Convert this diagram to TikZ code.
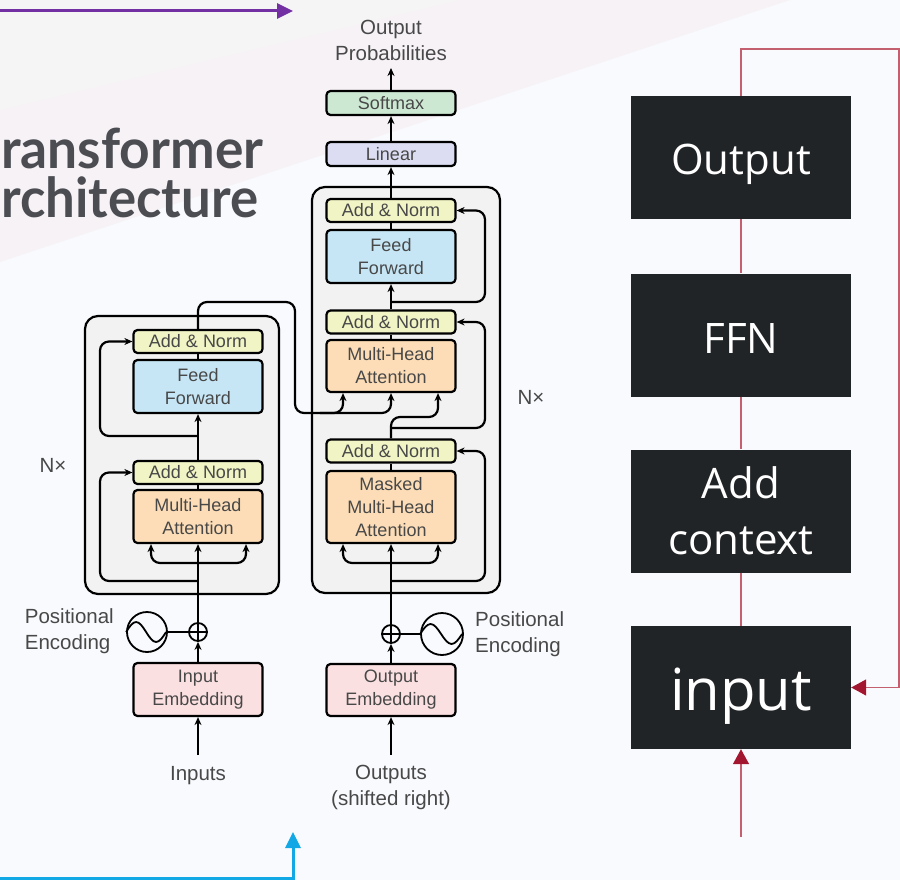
\documentclass[tikz,border=0pt]{standalone}
\usepackage{fontspec}
\setmainfont{Liberation Sans}
\newfontfamily\titlefont{Lato}
\newfontfamily\boxfont{Open Sans}
\usetikzlibrary{arrows.meta}

\definecolor{bgbase}{HTML}{F9FAFD}
\definecolor{bgpink}{HTML}{F6F2F6}
\definecolor{bggray}{HTML}{F6F5F5}
\definecolor{titlegray}{HTML}{4B4D52}
\definecolor{tgray}{HTML}{484848}
\definecolor{blkfill}{HTML}{F2F2F2}
\definecolor{anfill}{HTML}{F1F4C4}
\definecolor{fffill}{HTML}{C6E6F5}
\definecolor{mhafill}{HTML}{FCDDB7}
\definecolor{embfill}{HTML}{FBE0E1}
\definecolor{linfill}{HTML}{DCDDF2}
\definecolor{smfill}{HTML}{CCE8D3}
\definecolor{darkbox}{HTML}{212426}
\definecolor{redline}{HTML}{C45F6F}
\definecolor{arrowred}{HTML}{A3162F}
\definecolor{purplearrow}{HTML}{7330A3}
\definecolor{cyanarrow}{HTML}{12A8E6}

\tikzset{
  tbox/.style={draw=black, line width=2.2pt, rounded corners=4pt,
    minimum width=129pt, inner sep=0pt, align=center, text=tgray,
    font=\fontsize{18}{23}\selectfont},
  anbox/.style={tbox, fill=anfill, minimum height=23pt},
  ffbox/.style={tbox, fill=fffill, minimum height=53pt},
  mhabox/.style={tbox, fill=mhafill},
  embbox/.style={tbox, fill=embfill, minimum height=53pt},
  blkbox/.style={draw=black, line width=2.2pt, fill=blkfill, rounded corners=13pt, inner sep=0pt},
  lbl/.style={text=tgray, inner sep=0pt, align=center, font=\fontsize{20.5}{26}\selectfont},
  tline/.style={line width=2.2pt},
  arr/.style={line width=2.2pt, -{Stealth[length=8pt,width=7pt]}},
  loop/.style={arr, rounded corners=9pt},
  ring/.style={circle, draw=black, line width=1.8pt, inner sep=0pt},
  dbox/.style={fill=darkbox, minimum width=220pt, minimum height=123pt, inner sep=0pt,
    text=white, align=center, font=\boxfont\fontsize{42}{56}\selectfont},
  rline/.style={draw=redline, line width=1.4pt},
  rarr/.style={rline, -{Triangle[length=15pt,width=16pt,color=arrowred,fill=arrowred]}},
  titletext/.style={anchor=base west, inner sep=0pt, text=titlegray,
    font=\titlefont\bfseries\fontsize{55}{60}\selectfont}
}

\begin{document}
\begin{tikzpicture}[x=1pt,y=-1pt]
\useasboundingbox (0,0) rectangle (900,880);

% backdrop with faint diagonal bands
\fill[bgbase] (0,0) rectangle (900,880);
\fill[bgpink] (0,0) -- (790,0) -- (0,262) -- cycle;
\fill[bggray] (0,0) -- (460,0) -- (0,110) -- cycle;

% title, as far as it shows at the left edge
\node[titletext] (title1) at (1,168) {\resizebox{262pt}{\height}{ransformer}};
\node[titletext] (title2) at (1,218) {\resizebox{257pt}{\height}{rchitecture}};

% decorative arrows
\coordinate (purpleStart) at (0,11);
\coordinate (purpleEnd) at (293,11);
\draw[purplearrow, line width=3pt, -{Triangle[length=16pt,width=15pt]}] (purpleStart) -- (purpleEnd);
\coordinate (cyanStart) at (0,878);
\coordinate (cyanEnd) at (293,832);
\draw[cyanarrow, line width=3pt, -{Triangle[length=16pt,width=15pt]}] (cyanStart) -| (cyanEnd);

% ---------------- encoder ----------------
\node[blkbox, minimum width=194pt, minimum height=278pt] (encBlk) at (182,455) {};
\node[anbox] (eAN2) at (198,341.5) {Add \& Norm};
\node[ffbox] (eFF) at (198,386.5) {Feed\\Forward};
\node[anbox] (eAN1) at (198,472.5) {Add \& Norm};
\node[mhabox, minimum height=53pt] (eMHA) at (198,516.5) {Multi-Head\\Attention};
\node[embbox] (eEmb) at (198,689.5) {Input\\Embedding};
\node[ring, minimum size=18pt] (ePlus) at (198,632) {};
\node[ring, minimum size=40pt] (eSin) at (147,632) {};
\node[lbl, anchor=east, align=left] (ePosLbl) at (114,631) {Positional\\Encoding};
\node[lbl] (inLbl) at (198,776) {Inputs};
\node[lbl] (eN) at (53,465) {N×};

\draw[line width=1.5pt] (ePlus.north) -- (ePlus.south) (ePlus.west) -- (ePlus.east);
\draw[line width=1.8pt] (eSin.west) sin ++(10,-10) cos ++(10,10) sin ++(10,10) cos ++(10,-10);
\draw[tline] (eSin.east) -- (ePlus.west);
\coordinate (inTail) at (198,755);
\draw[arr] (inTail) -- (eEmb.south);
\draw[arr] (eEmb.north) -- (ePlus.south);
\draw[arr] (ePlus.north) -- (eMHA.south);
\draw[loop] (198,563) -| ([xshift=-47pt]eMHA.south);
\draw[loop] (198,563) -| ([xshift=48pt]eMHA.south);
\draw[loop] (198,581) -| (100,472.5) -- (eAN1.west);
\draw[tline] (eMHA.north) -- (eAN1.south);
\draw[arr] (eAN1.north) -- (eFF.south);
\draw[loop] (198,436) -| (100,341.5) -- (eAN2.west);
\draw[tline] (eFF.north) -- (eAN2.south);

% ---------------- decoder ----------------
\node[blkbox, minimum width=188pt, minimum height=406pt] (decBlk) at (406,390) {};
\node[anbox] (dAN3) at (391,210.5) {Add \& Norm};
\node[ffbox] (dFF) at (391,256.5) {Feed\\Forward};
\node[anbox] (dAN2) at (391,322) {Add \& Norm};
\node[mhabox, minimum height=52pt] (dMHA) at (391,366) {Multi-Head\\Attention};
\node[anbox] (dAN1) at (391,451) {Add \& Norm};
\node[mhabox, minimum height=72pt] (dMMHA) at (391,507) {Masked\\Multi-Head\\Attention};
\node[embbox, minimum height=52pt] (dEmb) at (391,690) {Output\\Embedding};
\node[tbox, fill=linfill, minimum height=24pt] (lin) at (391,154) {Linear};
\node[tbox, fill=smfill, minimum height=24pt] (soft) at (391,103) {Softmax};
\node[ring, minimum size=18pt] (dPlus) at (391,634) {};
\node[ring, minimum size=42pt] (dSin) at (442,634) {};
\node[lbl, anchor=west, align=left] (dPosLbl) at (475,634) {Positional\\Encoding};
\node[lbl] (outLbl) at (391,787) {Outputs\\(shifted right)};
\node[lbl] (probLbl) at (391,40) {Output\\Probabilities};
\node[lbl] (dN) at (531,397) {N×};

\draw[line width=1.5pt] (dPlus.north) -- (dPlus.south) (dPlus.west) -- (dPlus.east);
\draw[line width=1.8pt] (dSin.west) sin ++(10.5,-10) cos ++(10.5,10) sin ++(10.5,10) cos ++(10.5,-10);
\draw[tline] (dSin.west) -- (dPlus.east);
\coordinate (outTail) at (391,755);
\draw[arr] (outTail) -- (dEmb.south);
\draw[arr] (dEmb.north) -- (dPlus.south);
\draw[arr] (dPlus.north) -- (dMMHA.south);
\draw[loop] (391,563) -| ([xshift=-48pt]dMMHA.south);
\draw[loop] (391,563) -| ([xshift=47pt]dMMHA.south);
\draw[loop] (391,581) -| (485,451) -- (dAN1.east);
\draw[tline] (dMMHA.north) -- (dAN1.south);
\draw[loop] (dAN1.north) -- (391,417) -| ([xshift=47pt]dMHA.south);
\draw[loop] (391,428) -| (485,322) -- (dAN2.east);
\draw[tline] (dMHA.north) -- (dAN2.south);
\draw[arr] (dAN2.north) -- (dFF.south);
\draw[loop] (391,302) -| (485,210.5) -- (dAN3.east);
\draw[tline] (dFF.north) -- (dAN3.south);
\draw[arr] (dAN3.north) -- (lin.south);
\draw[arr] (lin.north) -- (soft.south);
\coordinate (probTip) at (391,68);
\draw[arr] (soft.north) -- (probTip);

% encoder output into the decoder attention
\draw[loop] (eAN2.north) |- (295,302) -- (295,413) -| (dMHA.south);
\draw[loop] (320,413) -| ([xshift=-48pt]dMHA.south);

% ---------------- right-hand block chain ----------------
\node[dbox, text height=35pt, text depth=0pt] (rOut) at (741,157.5) {Output};
\node[dbox, text height=36pt, text depth=0pt] (rFFN) at (741,335) {FFN};
\node[dbox] (rAdd) at (741,511) {Add\\context};
\node[dbox, text height=45pt, text depth=0pt, font=\boxfont\fontsize{58}{70}\selectfont] (rIn) at (741,687.5) {input};

\draw[rline] (rOut.south) -- (rFFN.north);
\draw[rline] (rFFN.south) -- (rAdd.north);
\draw[rline] (rAdd.south) -- (rIn.north);
\draw[rarr] (rOut.north) |- (899,49) |- (rIn.east);
\coordinate (rTail) at (741,837);
\draw[rarr] (rTail) -- (rIn.south);

\end{tikzpicture}
\end{document}
